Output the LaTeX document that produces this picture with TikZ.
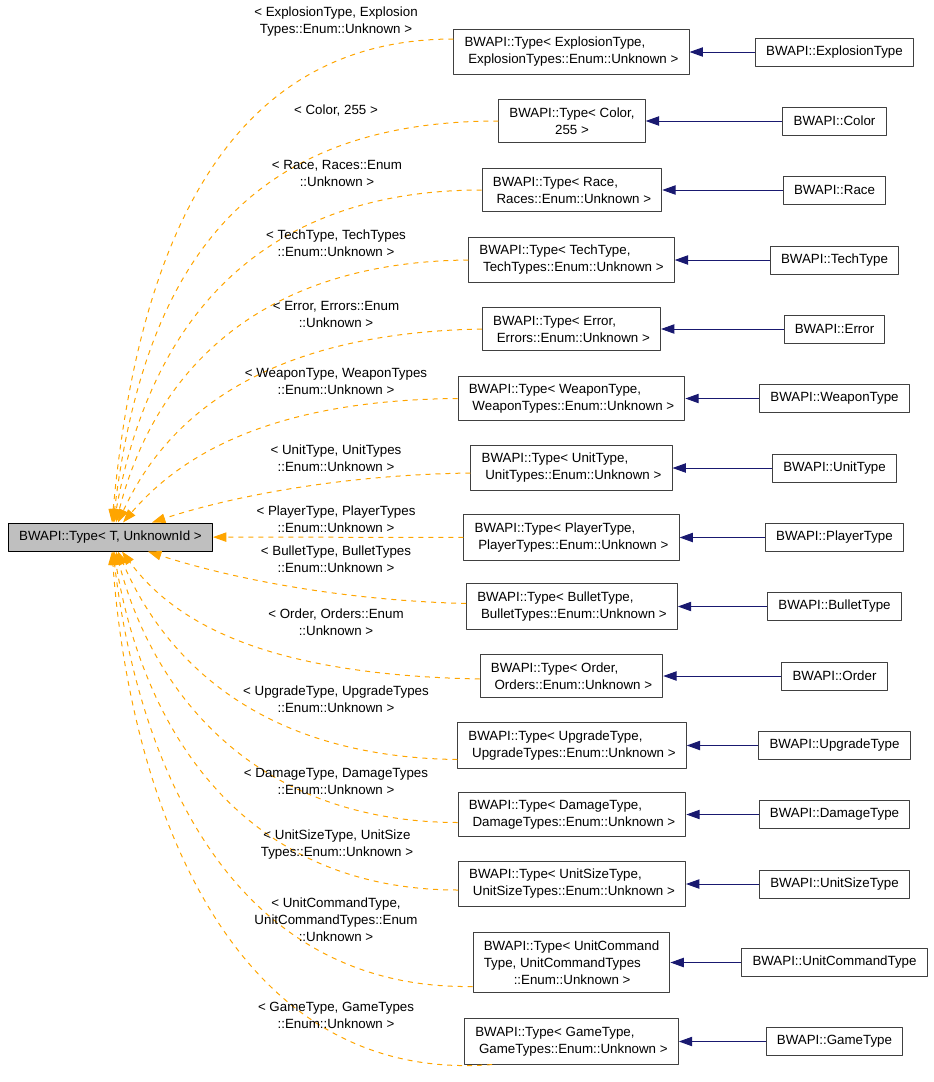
\documentclass[tikz,border=0pt]{standalone}
\usepackage{fontspec}
\setmainfont{Liberation Sans}
\usetikzlibrary{arrows.meta}
\definecolor{instorange}{HTML}{FFA500}
\definecolor{inhblue}{HTML}{191970}
\begin{document}
\begin{tikzpicture}[x=0.75pt, y=-0.75pt, line join=round,
    cls/.style={draw=black!75, line width=0.75pt, inner xsep=8pt, inner ysep=6pt,
      align=left, font=\fontsize{10}{12.75}\selectfont},
    leaf/.style={cls, inner ysep=0pt, minimum height=21pt},
    topcls/.style={cls, draw=black, fill=black!25, inner ysep=0pt, minimum height=21pt},
    lbl/.style={inner sep=0pt, align=center, font=\fontsize{10}{12.75}\selectfont},
    inst/.style={draw=instorange, line width=0.75pt, dash pattern=on 3.75pt off 3.75pt,
      -{Triangle[length=10pt, width=7pt, fill=instorange]}},
    inh/.style={draw=inhblue, line width=0.75pt,
      -{Triangle[length=10pt, width=7pt, fill=inhblue]}}]
  \useasboundingbox (0,0) rectangle (933,1082);
  \node[topcls] (base) at (110.5,537) {BWAPI::Type< T, UnknownId >};
  % template instances
  \node[cls] (tExp) at (571.5,52) {BWAPI::Type< ExplosionType,\\\ ExplosionTypes::Enum::Unknown >};
  \node[cls, align=center] (tCol) at (572,121) {BWAPI::Type< Color,\\255 >};
  \node[cls] (tRace) at (572,190) {BWAPI::Type< Race,\\\ Races::Enum::Unknown >};
  \node[cls] (tTech) at (571.5,260) {BWAPI::Type< TechType,\\\ TechTypes::Enum::Unknown >};
  \node[cls] (tErr) at (571.5,329) {BWAPI::Type< Error,\\\ Errors::Enum::Unknown >};
  \node[cls] (tWpn) at (571.5,398.5) {BWAPI::Type< WeaponType,\\\ WeaponTypes::Enum::Unknown >};
  \node[cls] (tUnit) at (571.5,468) {BWAPI::Type< UnitType,\\\ UnitTypes::Enum::Unknown >};
  \node[cls] (tPlay) at (571.5,537.5) {BWAPI::Type< PlayerType,\\\ PlayerTypes::Enum::Unknown >};
  \node[cls] (tBul) at (572,606.5) {BWAPI::Type< BulletType,\\\ BulletTypes::Enum::Unknown >};
  \node[cls] (tOrd) at (571.5,676) {BWAPI::Type< Order,\\\ Orders::Enum::Unknown >};
  \node[cls] (tUpg) at (572,745.5) {BWAPI::Type< UpgradeType,\\\ UpgradeTypes::Enum::Unknown >};
  \node[cls] (tDmg) at (572,814.5) {BWAPI::Type< DamageType,\\\ DamageTypes::Enum::Unknown >};
  \node[cls] (tSize) at (572,884) {BWAPI::Type< UnitSizeType,\\\ UnitSizeTypes::Enum::Unknown >};
  \node[cls] (tCmd) at (571.5,962.5) {BWAPI::Type< UnitCommand\\Type, UnitCommandTypes\\\hspace*{22.5pt}::Enum::Unknown >};
  \node[cls] (tGame) at (571.5,1041.5) {BWAPI::Type< GameType,\\\ GameTypes::Enum::Unknown >};
  % classes
  \node[leaf] (Exp) at (834.5,52) {BWAPI::ExplosionType};
  \node[leaf] (Col) at (834.5,121) {BWAPI::Color};
  \node[leaf] (Race) at (834.5,190) {BWAPI::Race};
  \node[leaf] (Tech) at (834.5,260) {BWAPI::TechType};
  \node[leaf] (Err) at (834.5,329) {BWAPI::Error};
  \node[leaf] (Wpn) at (834.5,398.5) {BWAPI::WeaponType};
  \node[leaf] (Unit) at (834.5,468) {BWAPI::UnitType};
  \node[leaf] (Play) at (834.5,537.5) {BWAPI::PlayerType};
  \node[leaf] (Bul) at (834.5,606.5) {BWAPI::BulletType};
  \node[leaf] (Ord) at (834.5,676) {BWAPI::Order};
  \node[leaf] (Upg) at (834.5,745.5) {BWAPI::UpgradeType};
  \node[leaf] (Dmg) at (834.5,814.5) {BWAPI::DamageType};
  \node[leaf] (Size) at (834.5,884) {BWAPI::UnitSizeType};
  \node[leaf] (Cmd) at (834.5,962.5) {BWAPI::UnitCommandType};
  \node[leaf] (Game) at (834.5,1041.5) {BWAPI::GameType};
  \draw[inh] (Exp) -- (tExp);
  \draw[inh] (Col) -- (tCol);
  \draw[inh] (Race) -- (tRace);
  \draw[inh] (Tech) -- (tTech);
  \draw[inh] (Err) -- (tErr);
  \draw[inh] (Wpn) -- (tWpn);
  \draw[inh] (Unit) -- (tUnit);
  \draw[inh] (Play) -- (tPlay);
  \draw[inh] (Bul) -- (tBul);
  \draw[inh] (Ord) -- (tOrd);
  \draw[inh] (Upg) -- (tUpg);
  \draw[inh] (Dmg) -- (tDmg);
  \draw[inh] (Size) -- (tSize);
  \draw[inh] (Cmd) -- (tCmd);
  \draw[inh] (Game) -- (tGame);
  % template arguments
  \draw[inst] ([yshift=9.75pt]tExp.west) .. controls (240,39) and (140,220) .. ([xshift=1.1pt]base.north);
  \draw[inst] (tCol.west) .. controls (250,121) and (145,260) .. ([xshift=1.9pt]base.north);
  \draw[inst] (tRace.west) .. controls (260,190) and (150,320) .. ([xshift=2.6pt]base.north);
  \draw[inst] (tTech.west) .. controls (260,262) and (155,370) .. ([xshift=4.1pt]base.north);
  \draw[inst] (tErr.west) .. controls (260,333) and (165,420) .. ([xshift=5.6pt]base.north);
  \draw[inst] (tWpn.west) .. controls (280,400) and (185,450) .. ([xshift=9.4pt]base.north);
  \draw[inst] ([yshift=-3.75pt]tUnit.west) .. controls (330,475) and (220,500) .. ([xshift=31.1pt]base.north);
  \draw[inst] (tPlay) -- (base);
  \draw[inst] ([yshift=2.25pt]tBul.west) .. controls (330,600) and (220,575) .. ([xshift=28.1pt]base.south);
  \draw[inst] ([yshift=-2.25pt]tOrd.west) .. controls (280,675) and (180,630) .. ([xshift=8.6pt]base.south);
  \draw[inst] ([yshift=-10.5pt]tUpg.west) .. controls (260,757) and (165,660) .. ([xshift=5.6pt]base.south);
  \draw[inst] ([yshift=-6pt]tDmg.west) .. controls (260,822) and (155,700) .. ([xshift=4.1pt]base.south);
  \draw[inst] ([yshift=-4.5pt]tSize.west) .. controls (250,890) and (145,740) .. ([xshift=2.6pt]base.south);
  \draw[inst] ([yshift=-18pt]tCmd.west) .. controls (240,990) and (140,780) .. ([xshift=1.9pt]base.south);
  \draw[inst] ([xshift=21pt]tGame.south west) .. controls (230,1085) and (130,800) .. ([xshift=1.1pt]base.south);
  \node[lbl] (lExp) at (336,22) {< ExplosionType, Explosion\\Types::Enum::Unknown >};
  \node[lbl] (lCol) at (336,111) {< Color, 255 >};
  \node[lbl] (lRace) at (337,173) {< Race, Races::Enum\\::Unknown >};
  \node[lbl] (lTech) at (336,243) {< TechType, TechTypes\\::Enum::Unknown >};
  \node[lbl] (lErr) at (336,314) {< Error, Errors::Enum\\::Unknown >};
  \node[lbl] (lWpn) at (336,381) {< WeaponType, WeaponTypes\\::Enum::Unknown >};
  \node[lbl] (lUnit) at (336,458) {< UnitType, UnitTypes\\::Enum::Unknown >};
  \node[lbl] (lPlay) at (336,519) {< PlayerType, PlayerTypes\\::Enum::Unknown >};
  \node[lbl] (lBul) at (336,559) {< BulletType, BulletTypes\\::Enum::Unknown >};
  \node[lbl] (lOrd) at (336,622) {< Order, Orders::Enum\\::Unknown >};
  \node[lbl] (lUpg) at (336,699) {< UpgradeType, UpgradeTypes\\::Enum::Unknown >};
  \node[lbl] (lDmg) at (336,781) {< DamageType, DamageTypes\\::Enum::Unknown >};
  \node[lbl] (lSize) at (337,845) {< UnitSizeType, UnitSize\\Types::Enum::Unknown >};
  \node[lbl] (lCmd) at (336,920) {< UnitCommandType,\\UnitCommandTypes::Enum\\::Unknown >};
  \node[lbl] (lGame) at (336,1015) {< GameType, GameTypes\\::Enum::Unknown >};
\end{tikzpicture}
\end{document}
